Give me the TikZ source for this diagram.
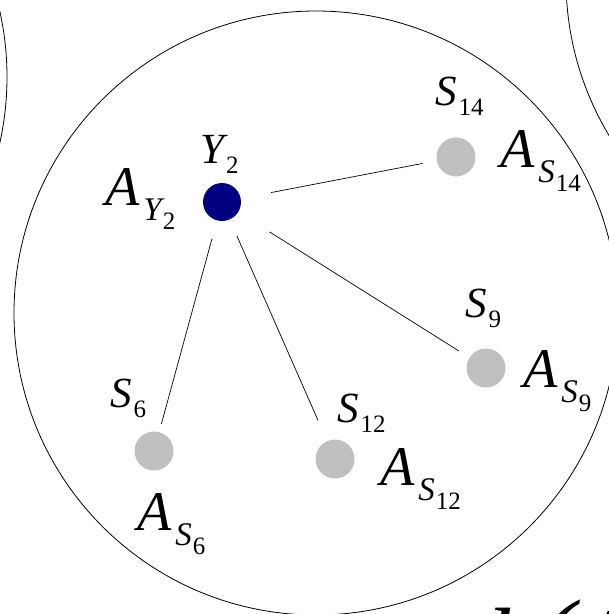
\documentclass[tikz,border=0pt]{standalone}
\usepackage{fontspec}
\setmainfont{Liberation Serif}
\definecolor{navyc}{RGB}{0,0,128}
\definecolor{grayc}{RGB}{192,192,192}
\newcommand{\Alab}[2]{{\fontsize{56}{56}\selectfont\itshape A}\kern4pt\raisebox{-15pt}{\fontsize{33}{33}\selectfont\itshape #1}\kern1pt\raisebox{-24pt}{\fontsize{25}{25}\selectfont #2}}
\newcommand{\Slab}[2]{{\fontsize{43}{43}\selectfont\itshape #1}\kern2pt\raisebox{-10pt}{\fontsize{25}{25}\selectfont #2}}
\tikzset{
  dotg/.style={circle, fill=grayc, minimum size=39pt, inner sep=0pt},
  doty/.style={circle, fill=navyc, minimum size=38pt, inner sep=0pt},
  lbl/.style={anchor=base west, inner sep=0pt},
  edgeln/.style={line width=0.7pt},
  ring/.style={line width=0.8pt}
}
\begin{document}
\begin{tikzpicture}[x=1pt,y=-1pt]
\useasboundingbox (0,0) rectangle (609,614);
\clip (0,0) rectangle (609,614);
% rings
\draw[ring] (316,313) circle[radius=302pt];
\draw[ring] (-295,77) circle[radius=302pt];
\draw[ring] (868,-20) circle[radius=302pt];
% dots
\node[doty] (Y2) at (222,202) {};
\node[dotg] (S14) at (456,157) {};
\node[dotg] (S9) at (486,368) {};
\node[dotg] (S12) at (335,459) {};
\node[dotg] (S6) at (154,451) {};
% connectors
\draw[edgeln, shorten <=50pt, shorten >=34pt] (Y2.center) -- (S14.center);
\draw[edgeln, shorten <=56pt, shorten >=32pt] (Y2.center) -- (S9.center);
\draw[edgeln, shorten <=37pt, shorten >=42pt] (Y2.center) -- (S12.center);
\draw[edgeln, shorten <=38pt, shorten >=28pt] (Y2.center) -- (S6.center);
% name labels
\node[lbl] (lY2) at (200,163) {\Slab{Y}{2}};
\node[lbl] (lS14) at (435,105) {\Slab{S}{14}};
\node[lbl] (lS9) at (465,317) {\Slab{S}{9}};
\node[lbl] (lS12) at (337,422) {\Slab{S}{12}};
\node[lbl] (lS6) at (110,407) {\Slab{S}{6}};
% attribute labels
\node[lbl] (aY2) at (105,205) {\Alab{Y}{2}};
\node[lbl] (aS14) at (500,167) {\Alab{S}{14}};
\node[lbl] (aS9) at (523,387) {\Alab{S}{9}};
\node[lbl] (aS12) at (380,485) {\Alab{S}{12}};
\node[lbl] (aS6) at (137,530) {\Alab{S}{6}};
% cut-off formula
\node[lbl] (kA) at (487,677) {\itshape{\fontsize{100}{100}\selectfont k}\kern6pt{\fontsize{112}{112}\selectfont (}{\fontsize{100}{100}\selectfont A}};
\end{tikzpicture}
\end{document}
